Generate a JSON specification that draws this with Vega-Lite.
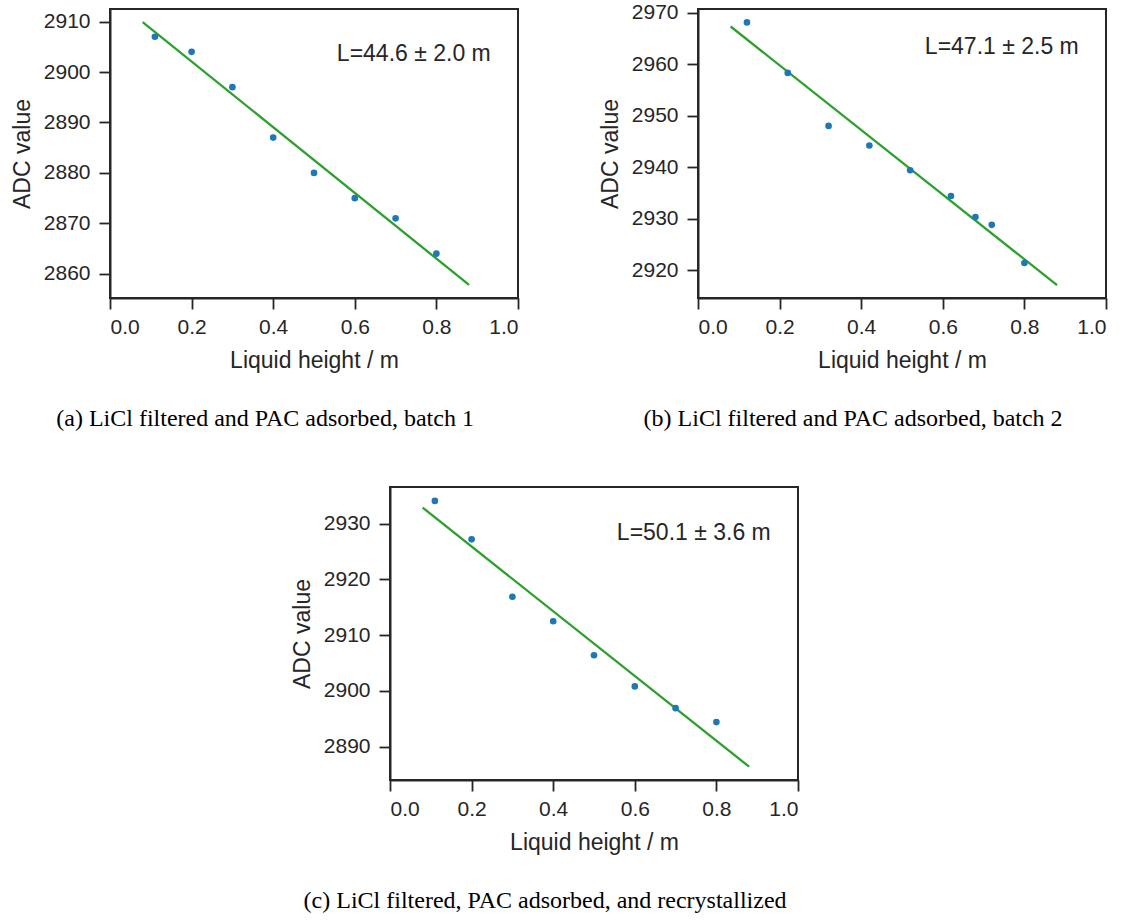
{
  "$schema": "https://vega.github.io/schema/vega-lite/v6.json",
  "padding": {"left": 10, "top": 0, "right": 0, "bottom": 0},
  "background": "white",
  "config": {
    "font": "Liberation Sans",
    "view": {"stroke": "#262626", "strokeWidth": 2},
    "axis": {"domainColor": "#262626", "domainWidth": 2, "tickColor": "#262626", "tickWidth": 1.8, "tickSize": 11, "labelFont": "Liberation Sans", "labelFontSize": 21, "labelColor": "#262626", "titleFont": "Liberation Sans", "titleFontSize": 23, "titleFontWeight": "normal", "titleColor": "#262626", "grid": false},
    "axisX": {"labelPadding": 7, "titlePadding": 12},
    "axisY": {"labelPadding": 9, "titlePadding": 9}
  },
  "datasets": {
    "a_pts": [
      {"h": 0.11, "adc": 2907.0}, {"h": 0.2, "adc": 2904.0}, {"h": 0.3, "adc": 2897.0}, {"h": 0.4, "adc": 2887.0},
      {"h": 0.5, "adc": 2880.0}, {"h": 0.6, "adc": 2875.0}, {"h": 0.7, "adc": 2871.0}, {"h": 0.8, "adc": 2864.0}
    ],
    "a_fit": [{"h": 0.08, "adc": 2909.9}, {"h": 0.88, "adc": 2857.8}],
    "a_ann": [{"h": 0.556, "adc": 2903.6, "label": "L=44.6 ± 2.0 m"}],
    "b_pts": [
      {"h": 0.12, "adc": 2968.1}, {"h": 0.22, "adc": 2958.3}, {"h": 0.32, "adc": 2948.0}, {"h": 0.42, "adc": 2944.2},
      {"h": 0.52, "adc": 2939.4}, {"h": 0.62, "adc": 2934.4}, {"h": 0.68, "adc": 2930.3}, {"h": 0.72, "adc": 2928.8},
      {"h": 0.80, "adc": 2921.4}
    ],
    "b_fit": [{"h": 0.08, "adc": 2967.3}, {"h": 0.88, "adc": 2917.1}],
    "b_ann": [{"h": 0.556, "adc": 2963.4, "label": "L=47.1 ± 2.5 m"}],
    "c_pts": [
      {"h": 0.11, "adc": 2934.1}, {"h": 0.2, "adc": 2927.2}, {"h": 0.3, "adc": 2916.9}, {"h": 0.4, "adc": 2912.5},
      {"h": 0.5, "adc": 2906.4}, {"h": 0.6, "adc": 2900.8}, {"h": 0.7, "adc": 2896.9}, {"h": 0.8, "adc": 2894.4}
    ],
    "c_fit": [{"h": 0.08, "adc": 2932.9}, {"h": 0.88, "adc": 2886.4}],
    "c_ann": [{"h": 0.556, "adc": 2928.4, "label": "L=50.1 ± 3.6 m"}]
  },
  "spacing": 54,
  "vconcat": [
    {
      "spacing": 78,
      "hconcat": [
        {
          "width": 408, "height": 289,
          "title": {"text": "(a) LiCl filtered and PAC adsorbed, batch 1", "orient": "bottom", "frame": "bounds", "anchor": "middle", "font": "Liberation Serif", "fontSize": 24, "fontWeight": "normal", "color": "black", "offset": 34.5},
          "layer": [
            {"data": {"name": "a_fit"}, "mark": {"type": "line", "color": "#2ca02c", "strokeWidth": 2.3},
             "encoding": {
               "x": {"field": "h", "type": "quantitative", "scale": {"domain": [0, 1], "nice": false, "zero": false}, "axis": {"values": [0, 0.2, 0.4, 0.6, 0.8, 1.0], "format": ".1f", "title": "Liquid height / m"}},
               "y": {"field": "adc", "type": "quantitative", "scale": {"domain": [2855.2, 2912.5], "nice": false, "zero": false}, "axis": {"values": [2860, 2870, 2880, 2890, 2900, 2910], "format": "d", "title": "ADC value"}}
             }},
            {"data": {"name": "a_pts"}, "mark": {"type": "circle", "color": "#1f77b4", "size": 44, "opacity": 1},
             "encoding": {"x": {"field": "h", "type": "quantitative"}, "y": {"field": "adc", "type": "quantitative"}}},
            {"data": {"name": "a_ann"}, "mark": {"type": "text", "align": "left", "baseline": "middle", "fontSize": 23, "color": "#262626", "font": "Liberation Sans"},
             "encoding": {"x": {"field": "h", "type": "quantitative"}, "y": {"field": "adc", "type": "quantitative"}, "text": {"field": "label"}}}
          ]
        },
        {
          "width": 408, "height": 289,
          "title": {"text": "(b) LiCl filtered and PAC adsorbed, batch 2", "orient": "bottom", "frame": "bounds", "anchor": "middle", "font": "Liberation Serif", "fontSize": 24, "fontWeight": "normal", "color": "black", "offset": 34.5},
          "layer": [
            {"data": {"name": "b_fit"}, "mark": {"type": "line", "color": "#2ca02c", "strokeWidth": 2.3},
             "encoding": {
               "x": {"field": "h", "type": "quantitative", "scale": {"domain": [0, 1], "nice": false, "zero": false}, "axis": {"values": [0, 0.2, 0.4, 0.6, 0.8, 1.0], "format": ".1f", "title": "Liquid height / m"}},
               "y": {"field": "adc", "type": "quantitative", "scale": {"domain": [2914.6, 2970.7], "nice": false, "zero": false}, "axis": {"values": [2920, 2930, 2940, 2950, 2960, 2970], "format": "d", "title": "ADC value"}}
             }},
            {"data": {"name": "b_pts"}, "mark": {"type": "circle", "color": "#1f77b4", "size": 44, "opacity": 1},
             "encoding": {"x": {"field": "h", "type": "quantitative"}, "y": {"field": "adc", "type": "quantitative"}}},
            {"data": {"name": "b_ann"}, "mark": {"type": "text", "align": "left", "baseline": "middle", "fontSize": 23, "color": "#262626", "font": "Liberation Sans"},
             "encoding": {"x": {"field": "h", "type": "quantitative"}, "y": {"field": "adc", "type": "quantitative"}, "text": {"field": "label"}}}
          ]
        }
      ]
    },
    {
      "spacing": 0,
      "hconcat": [
        {"width": 180, "height": 10, "data": {"values": []}, "mark": "point", "encoding": {}, "view": {"stroke": null}},
        {
          "width": 408, "height": 293,
          "title": {"text": "(c) LiCl filtered, PAC adsorbed, and recrystallized", "orient": "bottom", "frame": "bounds", "anchor": "middle", "font": "Liberation Serif", "fontSize": 24, "fontWeight": "normal", "color": "black", "offset": 34.5},
          "layer": [
            {"data": {"name": "c_fit"}, "mark": {"type": "line", "color": "#2ca02c", "strokeWidth": 2.3},
             "encoding": {
               "x": {"field": "h", "type": "quantitative", "scale": {"domain": [0, 1], "nice": false, "zero": false}, "axis": {"values": [0, 0.2, 0.4, 0.6, 0.8, 1.0], "format": ".1f", "title": "Liquid height / m"}},
               "y": {"field": "adc", "type": "quantitative", "scale": {"domain": [2884.0, 2936.6], "nice": false, "zero": false}, "axis": {"values": [2890, 2900, 2910, 2920, 2930], "format": "d", "title": "ADC value"}}
             }},
            {"data": {"name": "c_pts"}, "mark": {"type": "circle", "color": "#1f77b4", "size": 44, "opacity": 1},
             "encoding": {"x": {"field": "h", "type": "quantitative"}, "y": {"field": "adc", "type": "quantitative"}}},
            {"data": {"name": "c_ann"}, "mark": {"type": "text", "align": "left", "baseline": "middle", "fontSize": 23, "color": "#262626", "font": "Liberation Sans"},
             "encoding": {"x": {"field": "h", "type": "quantitative"}, "y": {"field": "adc", "type": "quantitative"}, "text": {"field": "label"}}}
          ]
        }
      ]
    }
  ]
}
